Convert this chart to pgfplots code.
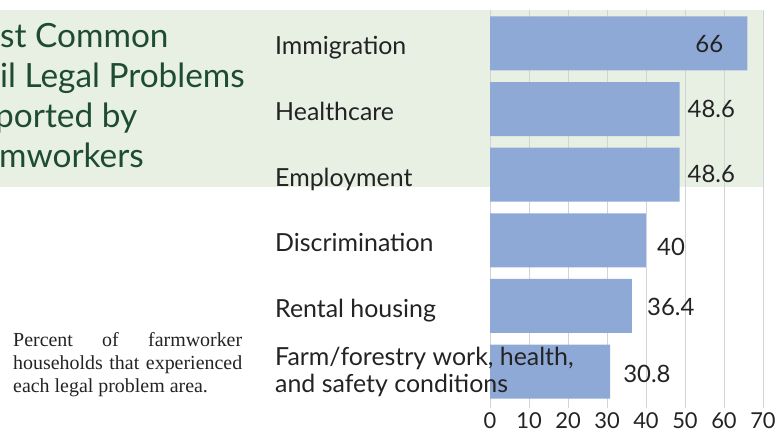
\documentclass[border=0pt]{standalone}
\usepackage{pgfplots}
\pgfplotsset{compat=1.18}
\usepackage{fontspec}
\newfontfamily\lato{Lato}
\newfontfamily\notefont{Liberation Serif}
\definecolor{barblue}{RGB}{143,169,214}
\definecolor{gridgray}{RGB}{208,212,216}
\definecolor{bandgreen}{RGB}{232,240,228}
\definecolor{titlegreen}{RGB}{30,76,50}
\definecolor{textdark}{RGB}{35,35,35}
\newcommand\titlefont{\lato\fontsize{33.5}{40}\selectfont}
\newcommand\catfont{\lato\fontsize{25}{27}\selectfont}
\newcommand\valfont{\lato\fontsize{24}{26}\selectfont}
\newcommand\tickfont{\lato\fontsize{22}{24}\selectfont}

\begin{document}
\begin{tikzpicture}
\path[use as bounding box] (0,0) rectangle (777bp,447bp);
\clip (0,0) rectangle (777bp,447bp);
% light green band behind the title and the top three bars
\fill[bandgreen] (0,260bp) rectangle (763bp,437bp);

% title, cut off at the left edge as in the scan
\begin{scope}[every node/.style={anchor=base west, inner sep=0pt, text=titlegreen, font=\titlefont}]
\node at (0bp,399bp) {\llap{Mo}st Common};
\node at (0bp,359bp) {\llap{Civ}il Legal Problems};
\node at (-5bp,319bp) {\llap{Re}ported by};
\node at (-1bp,279bp) {\llap{Far}mworkers};
\end{scope}

\node[anchor=base west, inner sep=0pt, text=textdark] at (13bp,100bp)
  {\parbox[t]{229bp}{\notefont\fontsize{20}{23}\selectfont\hyphenpenalty=10000
   Percent of farmworker\linebreak
   households that experienced\linebreak each legal problem area.}};

\begin{axis}[
  at={(490bp,39bp)}, anchor=south west,
  scale only axis, width=273bp, height=398bp,
  xmin=0, xmax=70, ymin=-0.556, ymax=5.51,
  xtick={0,10,...,70}, ytick=\empty,
  xmajorgrids, grid style={gridgray, line width=0.8pt},
  axis line style={draw=none}, major tick length=0pt,
  /pgf/number format/assume math mode=true,
  xticklabel style={font=\tickfont, text=textdark, anchor=base, yshift=-20bp},
  clip=false,
]
\addplot[xbar, bar width=54bp, fill=barblue, draw=none]
  coordinates {(66,5) (48.6,4) (48.6,3) (40,2) (36.4,1) (30.8,0)};

% category labels
\begin{scope}[every node/.style={anchor=base west, inner sep=0pt, text=textdark, font=\catfont}]
\node[yshift=-11.5bp] at (axis cs:-55.13,5) {Immigration};
\node[yshift=-11.5bp] at (axis cs:-55.13,4) {Healthcare};
\node[yshift=-11.5bp] at (axis cs:-55.13,3) {Employment};
\node[yshift=-11.5bp] at (axis cs:-55.13,2) {Discrimination};
\node[yshift=-11.5bp] at (axis cs:-55.13,1) {Rental housing};
\node[yshift=6.5bp]   at (axis cs:-55.13,0) {Farm/forestry work, health,};
\node[yshift=-20.5bp] at (axis cs:-55.13,0) {and safety conditions};
\end{scope}

% values
\begin{scope}[every node/.style={inner sep=0pt, text=textdark, font=\valfont}]
\node[anchor=base east, xshift=-24bp, yshift=-9.5bp] at (axis cs:66,5) {66};
\node[anchor=base west, xshift=8bp, yshift=-8bp] at (axis cs:48.6,4) {48.6};
\node[anchor=base west, xshift=8bp, yshift=-8bp] at (axis cs:48.6,3) {48.6};
\node[anchor=base west, xshift=11bp, yshift=-15bp] at (axis cs:40,2) {40};
\node[anchor=base west, xshift=15bp, yshift=-9.5bp] at (axis cs:36.4,1) {36.4};
\node[anchor=base west, xshift=13bp, yshift=-10.5bp] at (axis cs:30.8,0) {30.8};
\end{scope}
\end{axis}
\end{tikzpicture}
\end{document}
